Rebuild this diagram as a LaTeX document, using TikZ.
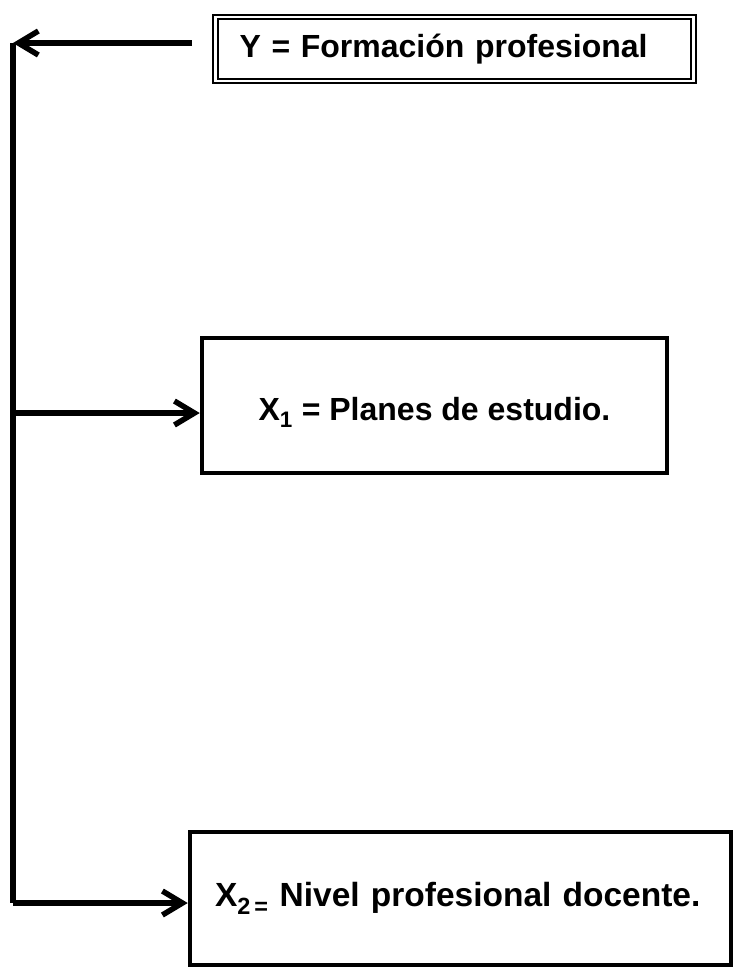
\documentclass[tikz,border=0pt]{standalone}
\usepackage{fontspec}
\setmainfont{Liberation Sans}
\usepackage{tikz}
\usetikzlibrary{shapes,arrows.meta,positioning,calc}

\begin{document}
\begin{tikzpicture}[
    x=1pt, y=-1pt,
    varbox/.style={rectangle, draw, line width=4.5pt, inner sep=0pt, font=\bfseries\fontsize{32}{38}\selectfont},
    dblbox/.style={rectangle, draw, double, line width=2pt, double distance=2.5pt, font=\bfseries\fontsize{32}{38}\selectfont},
    link/.style={line width=5.5pt, -{Straight Barb[length=20pt, width=24pt]}}
]
    \useasboundingbox (0,0) rectangle (732,967);

    \node[dblbox, minimum width=478pt, minimum height=64pt, text width=430pt, inner xsep=24pt, align=left] (ybox) at (454.5,49) {Y = Formación profesional};
    \node[varbox, minimum width=465pt, minimum height=135pt] (xonebox) at (434.5,405.5) {\raisebox{-7pt}[24pt][8pt]{X\textsubscript{1} = Planes de estudio.}};
    \node[varbox, minimum width=541pt, minimum height=133pt, text width=491pt, inner xsep=25pt, align=left, font=\bfseries\fontsize{33.5}{39}\selectfont] (xtwobox) at (460.5,898.5) {X\textsubscript{2\,=} Nivel profesional docente.};

    \coordinate (ystart) at (192,43);
    \coordinate (corner) at (13,43);
    \coordinate (branch) at (13,413);
    \coordinate (bend) at (13,903);

    \draw[link] (ystart) -- (corner);
    \draw[line width=5.5pt] (corner) -- (bend);
    \draw[link] (branch) -- (branch -| xonebox.west);
    \draw[link] (bend) -- (bend -| xtwobox.west);
\end{tikzpicture}
\end{document}
